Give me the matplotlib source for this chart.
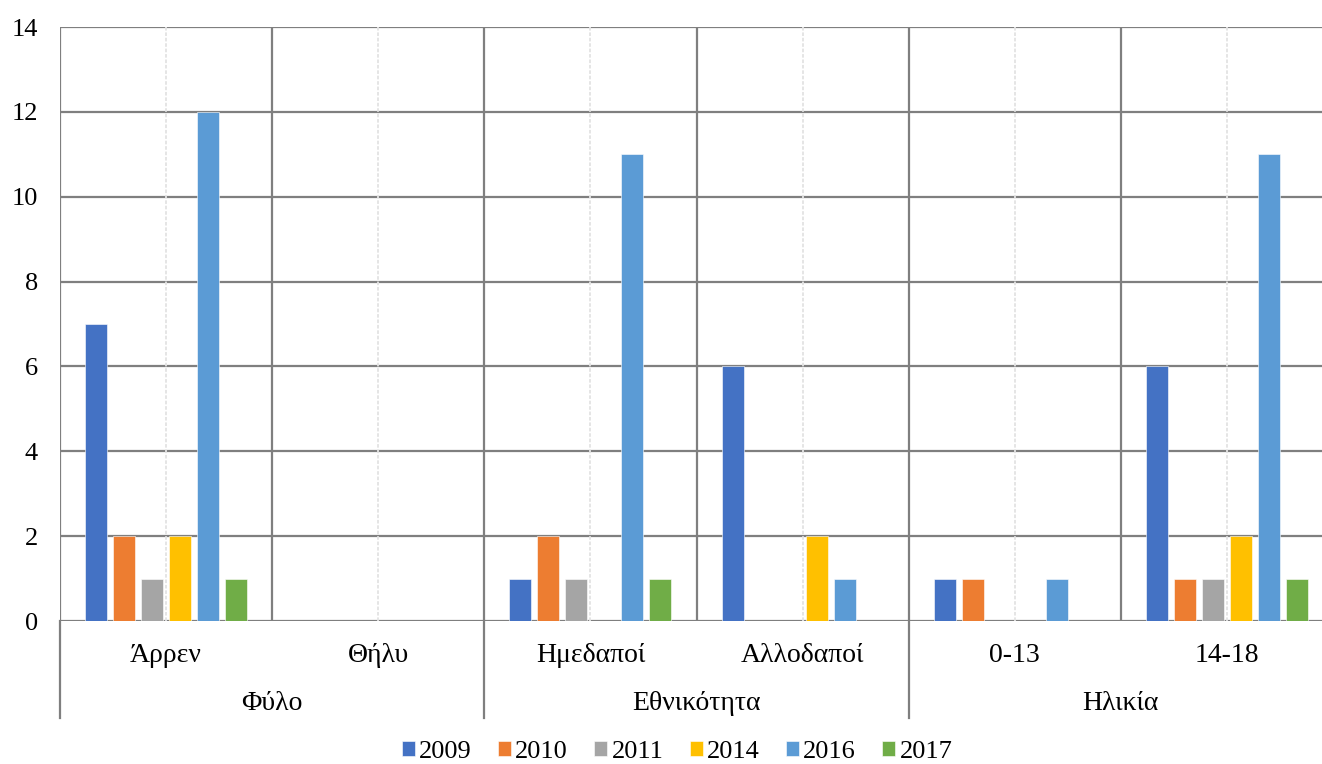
import numpy as np
import matplotlib
matplotlib.use('Agg')
import matplotlib.pyplot as plt
import matplotlib.transforms as mtransforms

plt.rcParams['font.family'] = ['Liberation Serif', 'DejaVu Serif']

categories = ['Άρρεν', 'Θήλυ', 'Ημεδαποί', 'Αλλοδαποί', '0-13', '14-18']
groups = ['Φύλο', 'Εθνικότητα', 'Ηλικία']
years = ['2009', '2010', '2011', '2014', '2016', '2017']

v2009 = [7, 0, 1, 6, 1, 6]
v2010 = [2, 0, 2, 0, 1, 1]
v2011 = [1, 0, 1, 0, 0, 1]
v2014 = [2, 0, 0, 2, 0, 2]
v2016 = [12, 0, 11, 1, 1, 11]
v2017 = [1, 0, 1, 0, 0, 1]

series = [v2009, v2010, v2011, v2014, v2016, v2017]
colors = ['#4472C4', '#ED7D31', '#A5A5A5', '#FFC000', '#5B9BD5', '#70AD47']

fig = plt.figure(figsize=(13.22, 7.64), dpi=100)
ax = fig.add_axes([60 / 1322, 1 - 621 / 764, 1273 / 1322, 594 / 764])

x = np.arange(len(categories))
step = 0.132
width = 0.104
for j, (vals, col, yr) in enumerate(zip(series, colors, years)):
    ax.bar(x + (j - 2.5) * step, vals, width, color=col, label=yr,
           edgecolor='white', linewidth=0.4, zorder=3)

ax.set_xlim(-0.5, len(categories) - 0.5)
ax.set_ylim(0, 14)
ax.set_yticks(range(0, 15, 2))

grid_col = '#7F7F7F'
# horizontal gridlines
for yv in range(0, 15, 2):
    ax.axhline(yv, color=grid_col, lw=1.6, zorder=1)
# category boundaries
for b in np.arange(-0.5, len(categories), 1):
    ax.axvline(b, color=grid_col, lw=1.6, zorder=1)
# light gridlines at category centres
for c in x:
    ax.axvline(c, color='#E3E3E3', lw=1.3, ls=(0, (2, 1)), zorder=2)

for s in ax.spines.values():
    s.set_visible(False)

ax.set_xticks(x)
ax.set_xticklabels(categories)
ax.tick_params(axis='x', length=0, pad=16, labelsize=20)
ax.tick_params(axis='y', length=0, pad=16, labelsize=19)

trans = mtransforms.blended_transform_factory(ax.transData, ax.transAxes)
for g, name in enumerate(groups):
    ax.text(2 * g + 0.5, -83 / 594, name, transform=trans, ha='center',
            va='center', fontsize=20)
for b in [-0.5, 1.5, 3.5, 5.5]:
    ax.plot([b, b], [0, -97 / 594], transform=trans, color=grid_col,
            lw=1.6, clip_on=False)

fig.legend(loc='center', bbox_to_anchor=(677 / 1322, 1 - 752 / 764), ncol=6,
           frameon=False, fontsize=19, handlelength=0.5, handleheight=0.5,
           handletextpad=0.15, columnspacing=1.0, borderaxespad=0)

fig.savefig('out.png', dpi=100)
